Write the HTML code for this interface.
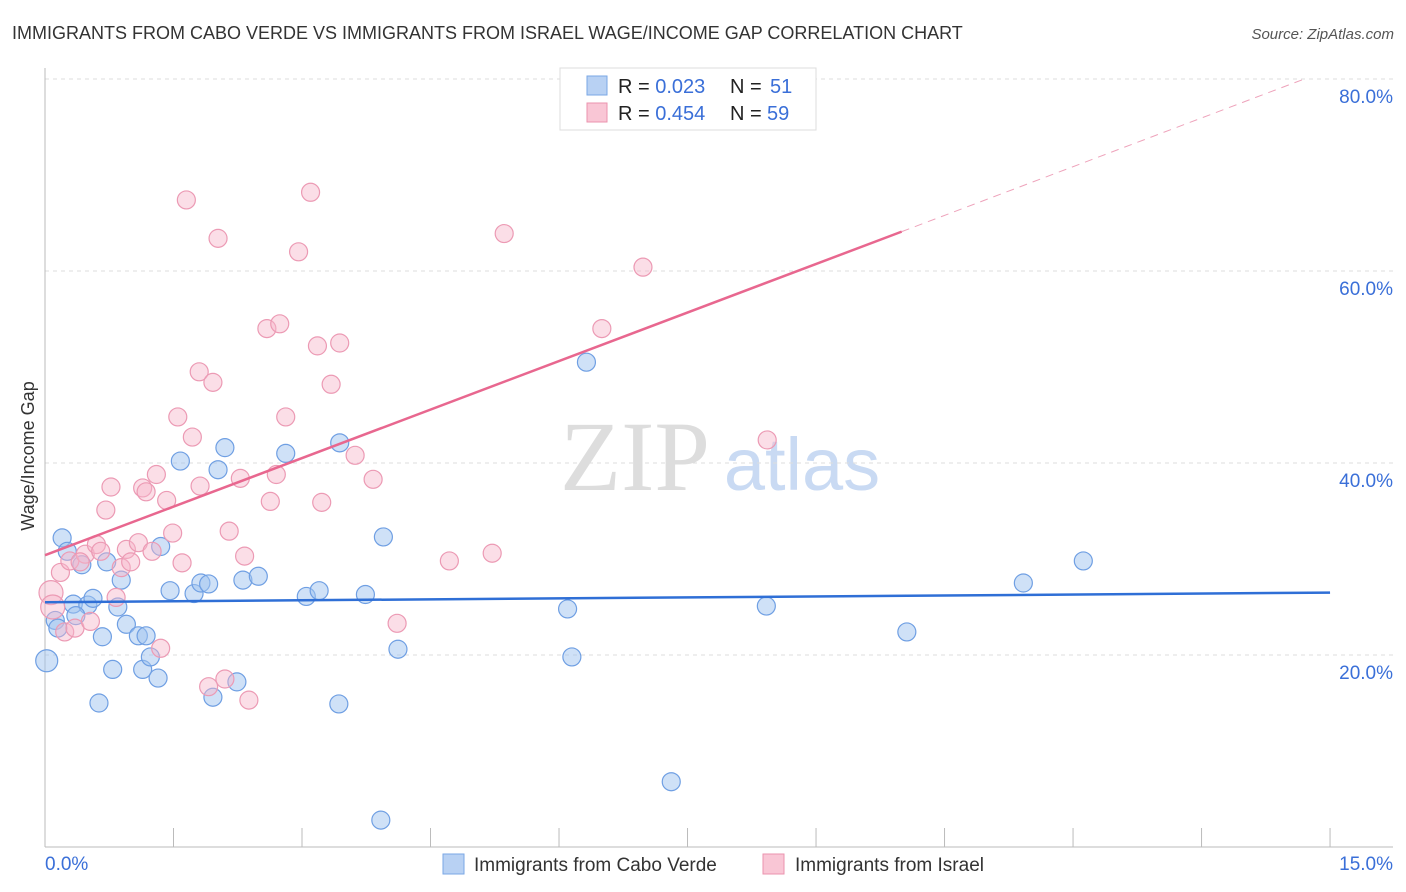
<!DOCTYPE html>
<html><head><meta charset="utf-8"><style>
body{margin:0;background:#fff;font-family:"Liberation Sans",sans-serif;}
svg{display:block}
</style></head><body>
<svg id="chart" width="1406" height="892" font-family="Liberation Sans, sans-serif">
<text x="12" y="39" font-size="18" fill="#333">IMMIGRANTS FROM CABO VERDE VS IMMIGRANTS FROM ISRAEL WAGE/INCOME GAP CORRELATION CHART</text>
<text x="1394" y="39" font-size="15" fill="#555" font-style="italic" text-anchor="end">Source: ZipAtlas.com</text>
<g>
<text x="635" y="490" font-size="100" font-family="Liberation Serif, serif" fill="#ddd" text-anchor="middle">ZIP</text>
<text x="802" y="490" font-size="74" fill="#c9daf3" text-anchor="middle">atlas</text>
</g>
<g id="grid"></g>
<g id="axes"></g>
<g id="marks"></g>
<text transform="translate(34,456) rotate(-90)" font-size="18" fill="#333" text-anchor="middle">Wage/Income Gap</text>
<g>
<rect x="560" y="68" width="256" height="62" fill="#fff" stroke="#ddd"/>
<rect x="587" y="76" width="20" height="19" fill="#b8d1f3" stroke="#7aa7e6"/>
<rect x="587" y="103" width="20" height="19" fill="#f9c6d5" stroke="#eb93ae"/>
<text x="618" y="93" font-size="20" fill="#222">R = <tspan fill="#3a6fd8">0.023</tspan><tspan x="730">N = </tspan><tspan x="770" fill="#3a6fd8">51</tspan></text>
<text x="618" y="120" font-size="20" fill="#222">R = <tspan fill="#3a6fd8">0.454</tspan><tspan x="730">N = </tspan><tspan x="767" fill="#3a6fd8">59</tspan></text>
</g>
<g>
<rect x="443" y="854" width="21" height="20" fill="#b8d1f3" stroke="#7aa7e6"/>
<text x="474" y="871" font-size="19" fill="#333">Immigrants from Cabo Verde</text>
<rect x="763" y="854" width="21" height="20" fill="#f9c6d5" stroke="#eb93ae"/>
<text x="795" y="871" font-size="19" fill="#333">Immigrants from Israel</text>
</g>
</svg>
<script>
const yTicks=[20,40,60,80];
const yTickLabels=["20.0%","40.0%","60.0%","80.0%"];
const xTicks=[0,1.5,3,4.5,6,7.5,9,10.5,12,13.5,15];
const xTickLabels=["0.0%","15.0%"];
const blueX=[0.02,0.20,0.26,0.43,0.33,0.50,0.56,0.12,0.15,0.36,0.63,0.67,0.72,0.79,0.85,0.89,0.95,1.09,1.14,1.18,1.23,1.32,1.35,1.46,1.58,1.74,1.82,1.91,1.96,2.02,2.10,2.24,2.31,2.49,2.81,3.05,3.20,3.43,3.44,3.74,3.95,4.12,3.92,6.10,6.15,6.32,7.31,8.42,10.06,11.42,12.12];
const blueY=[19.4,32.2,30.8,29.4,25.3,25.2,25.9,23.6,22.8,24.1,15.0,21.9,29.7,18.5,25.0,27.8,23.2,22.0,18.5,22.0,19.8,17.6,31.3,26.7,40.2,26.4,27.5,27.4,15.6,39.3,41.6,17.2,27.8,28.2,41.0,26.1,26.7,14.9,42.1,26.3,32.3,20.6,2.8,24.8,19.8,50.5,6.8,25.1,22.4,27.5,29.8];
const pinkX=[0.07,0.09,0.18,0.23,0.29,0.35,0.47,0.41,0.53,0.60,0.65,0.71,0.77,0.83,0.89,0.95,1.00,1.09,1.14,1.18,1.25,1.30,1.35,1.42,1.49,1.60,1.55,1.65,1.72,1.81,1.80,1.91,1.96,2.02,2.10,2.15,2.28,2.33,2.38,2.59,2.63,2.70,2.74,2.81,2.96,3.10,3.18,3.23,3.34,3.44,3.62,3.83,4.11,4.72,5.22,5.36,6.50,6.98,8.43];
const pinkY=[26.5,25.0,28.6,22.4,29.8,22.8,30.5,29.7,23.5,31.5,30.8,35.1,37.5,26.0,29.1,31.0,29.7,31.7,37.4,37.0,30.8,38.8,20.7,36.1,32.7,29.6,44.8,67.4,42.7,37.6,49.5,16.7,48.4,63.4,17.5,32.9,38.4,30.3,15.3,54.0,36.0,38.8,54.5,44.8,62.0,68.2,52.2,35.9,48.2,52.5,40.8,38.3,23.3,29.8,30.6,63.9,54.0,60.4,42.4];
const blueTrend=[25.5,26.5];
const pinkTrend=[30.4,64.1,80];
const pinkTrendX=[0,10,14.7];
const NS='http://www.w3.org/2000/svg';
const X=v=>45+v*85.67, Y=v=>847-v*9.6;
function mk(tag,attrs,parent){const e=document.createElementNS(NS,tag);for(const k in attrs)e.setAttribute(k,attrs[k]);parent.appendChild(e);return e;}
const grid=document.getElementById('grid'),axes=document.getElementById('axes'),marks=document.getElementById('marks');
yTicks.forEach((t,i)=>{
 const l=mk('line',{x1:45,x2:1393,y1:Y(t),y2:Y(t),stroke:'#ddd','stroke-dasharray':'4,4'},grid);
 
 
 const tx=mk('text',{x:1393,y:Y(t)+24,'font-size':19,fill:'#3a6fd8','text-anchor':'end'},axes);
 tx.textContent=yTickLabels[i];
 
 
});
const ax=mk('line',{x1:45,x2:45,y1:68,y2:847,stroke:'#bbb'},axes);


const bx=mk('line',{x1:45,x2:1393,y1:847,y2:847,stroke:'#bbb'},axes);


xTicks.forEach(t=>{
 const l=mk('line',{x1:X(t),x2:X(t),y1:828,y2:847,stroke:'#bbb'},axes);
 
 
});
const xl0=mk('text',{x:45,y:870,'font-size':19,fill:'#3a6fd8'},axes);xl0.textContent=xTickLabels[0];


const xl1=mk('text',{x:1393,y:870,'font-size':19,fill:'#3a6fd8','text-anchor':'end'},axes);xl1.textContent=xTickLabels[1];


blueX.forEach((v,i)=>{
 const c=mk('circle',{cx:X(v),cy:Y(blueY[i]),r:i==0?11:9,fill:'rgba(160,195,240,0.5)',stroke:'#6f9fe3','stroke-width':1.2},marks);
 
 
});
pinkX.forEach((v,i)=>{
 const c=mk('circle',{cx:X(v),cy:Y(pinkY[i]),r:i<2?12:9,fill:'rgba(246,182,202,0.45)',stroke:'#ec9ab4','stroke-width':1.2},marks);
 
 
});
const bl=mk('line',{x1:X(0),x2:X(15),y1:Y(blueTrend[0]),y2:Y(blueTrend[1]),stroke:'#2f6fd6','stroke-width':2.5},marks);


const pl=mk('line',{x1:X(pinkTrendX[0]),x2:X(pinkTrendX[1]),y1:Y(pinkTrend[0]),y2:Y(pinkTrend[1]),stroke:'#e8678f','stroke-width':2.5},marks);


const pd=mk('line',{x1:X(pinkTrendX[1]),x2:X(pinkTrendX[2]),y1:Y(pinkTrend[1]),y2:Y(pinkTrend[2]),stroke:'#eea3bb','stroke-width':1,'stroke-dasharray':'8,6'},marks);


</script>
</body></html>
